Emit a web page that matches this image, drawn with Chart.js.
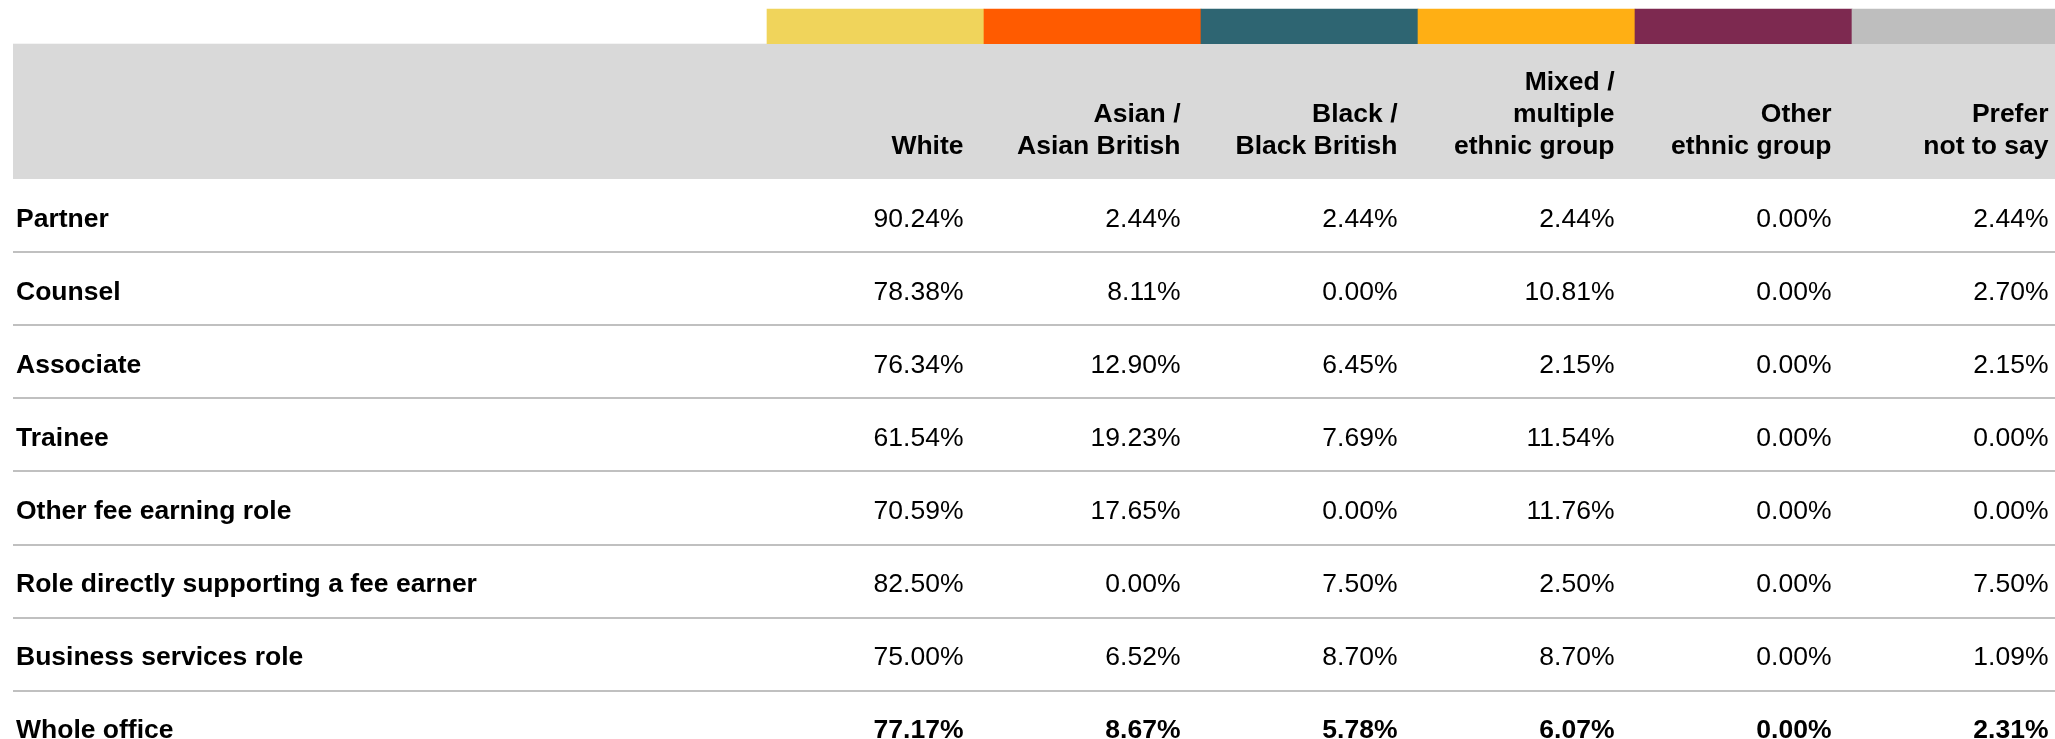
<!DOCTYPE html>
<html>
<head>
<meta charset="utf-8">
<title>Ethnicity by role</title>
<script src="https://cdn.jsdelivr.net/npm/chart.js@4.4.1/dist/chart.umd.min.js"></script>
<style>
  html, body { margin: 0; padding: 0; background: #fff; }
  #wrap { width: 2055px; height: 739px; }
</style>
</head>
<body>
<div id="wrap"><canvas id="chart"></canvas></div>
<script>
// column headings (one entry per line) and their colour keys
const groups = [
    ["White"],
    ["Asian /", "Asian British"],
    ["Black /", "Black British"],
    ["Mixed /", "multiple", "ethnic group"],
    ["Other", "ethnic group"],
    ["Prefer", "not to say"],
];
const groupColors = ["#F0D45B", "#FF5B00", "#2E6572", "#FFAF14", "#7D2950", "#BEBEBE"];

const roles = [
    "Partner",
    "Counsel",
    "Associate",
    "Trainee",
    "Other fee earning role",
    "Role directly supporting a fee earner",
    "Business services role",
    "Whole office",
];

// % of each role, per ethnic group
const white      = [90.24, 78.38, 76.34, 61.54, 70.59, 82.50, 75.00, 77.17];
const asian      = [2.44, 8.11, 12.90, 19.23, 17.65, 0.00, 6.52, 8.67];
const black      = [2.44, 0.00, 6.45, 7.69, 0.00, 7.50, 8.70, 5.78];
const mixed      = [2.44, 10.81, 2.15, 11.54, 11.76, 2.50, 8.70, 6.07];
const otherGroup = [0.00, 0.00, 0.00, 0.00, 0.00, 0.00, 0.00, 0.00];
const preferNot  = [2.44, 2.70, 2.15, 0.00, 0.00, 7.50, 1.09, 2.31];

const series = [white, asian, black, mixed, otherGroup, preferNot];

// layout: x unit = one value column, y unit = one body row
const W = 2055, H = 739;
const COL_PX = 217, ROW_PX = 73.1;
const dataLeftPx = 767, tableLeftPx = 13, bodyTopPx = 179;
const stripTopPx = 9, headTopPx = 43.7;

const xMin = -dataLeftPx / COL_PX;
const xMax = (W - dataLeftPx) / COL_PX;
const yMin = -bodyTopPx / ROW_PX;
const yMax = (H - bodyTopPx) / ROW_PX;
const labelLeft = (tableLeftPx - dataLeftPx) / COL_PX;
const stripTop = (stripTopPx - bodyTopPx) / ROW_PX;
const headTop = (headTopPx - bodyTopPx) / ROW_PX;

const FONT = '"Liberation Sans", Arial, Helvetica, sans-serif';
const FONT_SIZE = 26.5;
const CELL_INSET = 20.5;
const BASE_SHIFT = 11;

const tablePlugin = {
    id: "table",
    beforeDatasetsDraw(chart) {
        const { ctx, chartArea } = chart;
        const { x, y } = chart.scales;
        const left = x.getPixelForValue(labelLeft);
        const top = y.getPixelForValue(headTop);
        const bottom = y.getPixelForValue(0);

        ctx.save();
        ctx.fillStyle = "#D9D9D9";
        ctx.fillRect(left, top, chartArea.right - left, bottom - top);

        // row rules
        ctx.strokeStyle = "#C0C0C0";
        ctx.lineWidth = 2;
        for (let i = 1; i < roles.length; i++) {
            const py = Math.round(y.getPixelForValue(i));
            ctx.beginPath();
            ctx.moveTo(left, py);
            ctx.lineTo(chartArea.right, py);
            ctx.stroke();
        }
        ctx.restore();
    },
    afterDatasetsDraw(chart) {
        const { ctx } = chart;
        const { x, y } = chart.scales;
        ctx.save();
        ctx.fillStyle = "#000";
        ctx.textBaseline = "alphabetic";

        // headings, bottom-aligned in the grey band
        ctx.font = `bold ${FONT_SIZE}px ${FONT}`;
        ctx.textAlign = "right";
        const lastBase = y.getPixelForValue(0) - 25;
        groups.forEach((lines, k) => {
            const px = x.getPixelForValue(k + 1) - CELL_INSET;
            lines.forEach((line, j) => {
                ctx.fillText(line, px, lastBase - (lines.length - 1 - j) * 32);
            });
        });

        // role labels
        ctx.textAlign = "left";
        const labelX = x.getPixelForValue(labelLeft) + 3;
        roles.forEach((role, i) => {
            ctx.fillText(role, labelX, y.getPixelForValue(i + 0.5) + BASE_SHIFT);
        });

        // values
        ctx.textAlign = "right";
        series.forEach((vals, k) => {
            const px = x.getPixelForValue(k + 1) - CELL_INSET;
            vals.forEach((v, i) => {
                const total = i === roles.length - 1;
                ctx.font = `${total ? "bold " : ""}${FONT_SIZE}px ${FONT}`;
                ctx.fillText(v.toFixed(2) + "%", px, y.getPixelForValue(i + 0.5) + BASE_SHIFT);
            });
        });
        ctx.restore();
    },
};

new Chart(document.getElementById("chart"), {
    type: "bar",
    data: {
        datasets: [
            {
                label: "Ethnic group key",
                data: groupColors.map((c, i) => ({ x: i + 0.5, y: [stripTop, headTop] })),
                backgroundColor: groupColors,
                borderWidth: 0,
                barPercentage: 1,
                categoryPercentage: 1,
            },
        ],
    },
    options: {
        responsive: true,
        maintainAspectRatio: false,
        animation: false,
        events: [],
        layout: { padding: 0 },
        plugins: {
            legend: { display: false },
            tooltip: { enabled: false },
        },
        scales: {
            x: {
                type: "linear",
                display: false,
                offset: false,
                min: xMin,
                max: xMax,
                ticks: { stepSize: 1, includeBounds: false },
            },
            y: {
                type: "linear",
                display: false,
                reverse: true,
                min: yMin,
                max: yMax,
            },
        },
    },
    plugins: [tablePlugin],
});
</script>
</body>
</html>
